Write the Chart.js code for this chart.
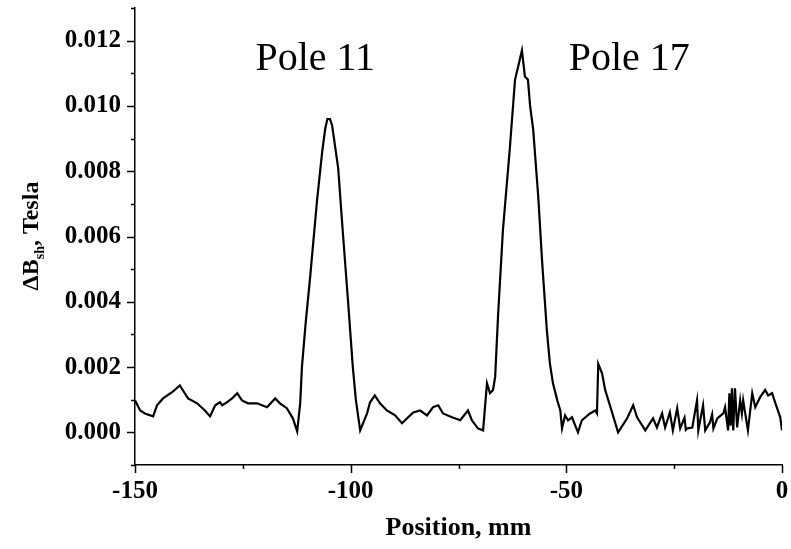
<!DOCTYPE html>
<html>
<head>
<meta charset="utf-8">
<script src="https://cdn.jsdelivr.net/npm/chart.js@4/dist/chart.umd.min.js"></script>
<style>
  html, body { margin: 0; padding: 0; background: #fff; }
  #wrap { width: 791px; height: 549px; position: relative; }
</style>
</head>
<body>
<div id="wrap"><canvas id="myChart"></canvas></div>
<script>
// position along the magnet, mm
const positionMm = [
  -150.0, -148.8, -147.7, -145.8, -144.9, -143.5, -141.4, -139.6, -138.9, -137.7,
  -135.6, -133.8, -132.6, -131.4, -130.3, -129.8, -128.7, -127.5, -126.3, -125.2,
  -123.8, -121.7, -119.4, -117.5, -116.4, -114.8, -113.4, -112.4, -111.7, -111.3,
  -110.4, -109.4, -107.8, -106.6, -105.9, -105.4, -104.8, -104.3, -102.9, -101.8, -100.6, -99.5,
  -98.8, -97.8, -96.2, -95.5, -94.4, -93.2, -91.6, -89.7, -88.1, -86.9,
  -85.5, -83.9, -82.3, -80.9, -79.7, -78.6, -76.5, -74.6, -72.8, -71.9,
  -70.5, -69.3, -68.4, -67.7, -67.0, -66.5, -65.8, -64.7, -63.1, -61.9,
  -61.0, -60.3, -59.6, -58.9, -58.4, -57.7, -56.5, -55.6, -54.5, -53.8,
  -53.1, -52.1, -51.4, -51.0, -50.3, -49.6, -48.7, -47.3, -46.4, -44.5,
  -43.3, -42.9, -42.6, -41.7, -41.0, -39.9, -38.0, -35.9, -34.5, -33.6,
  -31.7, -29.9, -29.0, -27.8, -27.1, -26.0, -25.3, -24.3, -23.6, -22.6, -22.3, -22.0,
  -20.8, -19.7, -19.4, -18.3, -17.8, -16.7, -16.2, -15.9, -15.0, -13.6, -13.2, -12.5,
  -12.2, -11.9, -11.6, -11.3, -10.9, -10.4, -9.7, -9.3, -9.0, -7.9, -6.9, -6.2,
  -5.1, -3.9, -3.2, -2.3, -1.6, -0.4, 0.0
];

// shimmed field difference, Tesla
const deltaB = [
  0.00098, 0.00067, 0.00058, 0.00049, 0.00083, 0.00104, 0.00123, 0.00144, 0.00129, 0.00104,
  0.00089, 0.00067, 0.00049, 0.00083, 0.00092, 0.00083, 0.00092, 0.00104, 0.00120, 0.00098,
  0.00089, 0.00089, 0.00077, 0.00104, 0.00089, 0.00074, 0.00043, 0.00003, 0.00089, 0.0020,
  0.0034, 0.00475, 0.0071, 0.0086, 0.0093, 0.0096, 0.0096, 0.0094, 0.0081, 0.0061, 0.0040, 0.0020,
  0.0010, 0.00006, 0.00058, 0.00092, 0.00113, 0.00089, 0.00067, 0.00052, 0.00028, 0.00043,
  0.00061, 0.00067, 0.00052, 0.00077, 0.00083, 0.00058, 0.00046, 0.00037, 0.00067, 0.00037,
  0.00012, 0.00006, 0.0015, 0.0012, 0.0013, 0.0017, 0.00365, 0.0062, 0.0087, 0.0108,
  0.0113, 0.0117, 0.0109, 0.0108, 0.0100, 0.0093, 0.0072, 0.0052, 0.0031, 0.0021,
  0.0015, 0.00098, 0.00067, 0.00012, 0.00052, 0.00037, 0.00046, 0.0, 0.00037, 0.00058,
  0.00067, 0.00058, 0.0021, 0.0018, 0.0013, 0.00083, 0.0, 0.00043, 0.00083, 0.00046,
  0.00006, 0.00043, 0.00015, 0.00058, 0.00015, 0.00061, 0.00006, 0.00074, 0.00012, 0.00045, 0.00008, 0.00012,
  0.00015, 0.00098, 0.00006, 0.00083, 0.00006, 0.00031, 0.00055, 0.00012, 0.00043, 0.00058, 0.00077, 0.00006,
  0.0012, 0.0002, 0.00135, 0.00006, 0.00135, 0.00015, 0.00098, 0.00058, 0.00098, 0.00006, 0.0012, 0.00077,
  0.00107, 0.0013, 0.00113, 0.0012, 0.00092, 0.00046, 0.00006
];

const poleLabels = ["Pole 11", "Pole 17"];
const poleX = [-108.2, -35.4];
const poleY = 0.0111;

const serif = "'Liberation Serif', 'Times New Roman', serif";

// ticks (long major / short minor), titles and the pole labels
const decor = {
  id: "decor",
  afterDraw(chart) {
    const ctx = chart.ctx;
    const xs = chart.scales.x;
    const ys = chart.scales.y;
    const area = chart.chartArea;
    ctx.save();
    ctx.strokeStyle = "#000";
    ctx.lineWidth = 1.5;
    ys.ticks.forEach((t) => {
      const py = Math.round(ys.getPixelForValue(t.value)) + 0.5;
      const major = Math.round(t.value * 1000) % 2 === 0;
      ctx.beginPath();
      ctx.moveTo(area.left - (major ? 8 : 4), py);
      ctx.lineTo(area.left, py);
      ctx.stroke();
    });
    xs.ticks.forEach((t) => {
      const px = Math.round(xs.getPixelForValue(t.value)) + 0.5;
      const major = Math.round(t.value) % 50 === 0;
      ctx.beginPath();
      ctx.moveTo(px, area.bottom);
      ctx.lineTo(px, area.bottom + (major ? 8 : 4));
      ctx.stroke();
    });

    ctx.fillStyle = "#000";
    ctx.textBaseline = "alphabetic";
    ctx.textAlign = "center";
    ctx.font = "40px " + serif;
    poleLabels.forEach((lbl, i) => {
      ctx.fillText(lbl, xs.getPixelForValue(poleX[i]), ys.getPixelForValue(poleY));
    });

    // x title
    ctx.font = "bold 26px " + serif;
    ctx.textBaseline = "middle";
    ctx.fillText("Position, mm", (area.left + area.right) / 2, 528);

    // y title with subscript
    ctx.translate(30, 236);
    ctx.rotate(-Math.PI / 2);
    const big = "bold 24px " + serif;
    const small = "bold 14px " + serif;
    ctx.textAlign = "left";
    ctx.textBaseline = "alphabetic";
    ctx.font = big;
    const w1 = ctx.measureText("\u0394B").width;
    const w3 = ctx.measureText(", Tesla").width;
    ctx.font = small;
    const w2 = ctx.measureText("sh").width;
    let x0 = -(w1 + w2 + w3) / 2;
    const base = 8;
    ctx.font = big;
    ctx.fillText("\u0394B", x0, base);
    ctx.font = small;
    ctx.fillText("sh", x0 + w1, base + 6);
    ctx.font = big;
    ctx.fillText(", Tesla", x0 + w1 + w2, base);
    ctx.restore();
  }
};

const points = positionMm.map((x, i) => ({ x: x, y: deltaB[i] }));

new Chart(document.getElementById("myChart"), {
  type: "line",
  data: {
    datasets: [{
      data: points,
      borderColor: "#000",
      borderWidth: 2.2,
      pointRadius: 0,
      tension: 0,
      fill: false
    }]
  },
  options: {
    responsive: true,
    maintainAspectRatio: false,
    animation: false,
    layout: { padding: { top: 8, right: 9, left: 0, bottom: 0 } },
    plugins: {
      legend: { display: false },
      tooltip: { enabled: false }
    },
    scales: {
      x: {
        type: "linear",
        min: -150,
        max: 0,
        grid: { display: false, drawTicks: false },
        border: { display: true, color: "#000", width: 1.5 },
        ticks: {
          stepSize: 25,
          autoSkip: false,
          padding: 12,
          color: "#000",
          maxRotation: 0,
          font: { family: serif, size: 25, weight: "bold" },
          callback: (v) => (Math.round(v) % 50 === 0 ? String(v) : "")
        },
        afterFit: (s) => { s.height = 84; s.paddingLeft = 0; s.paddingRight = 0; }
      },
      y: {
        min: -0.001,
        max: 0.013,
        grid: { display: false, drawTicks: false },
        border: { display: true, color: "#000", width: 1.5 },
        ticks: {
          stepSize: 0.001,
          autoSkip: false,
          padding: 14,
          color: "#000",
          font: { family: serif, size: 25, weight: "bold" },
          callback: (v) => (Math.round(v * 1000) % 2 === 0 ? (Math.round(v * 1000) / 1000).toFixed(3) : "")
        },
        afterFit: (s) => { s.width = 135; s.paddingTop = 0; s.paddingBottom = 0; }
      }
    }
  },
  plugins: [decor]
});
</script>
</body>
</html>
